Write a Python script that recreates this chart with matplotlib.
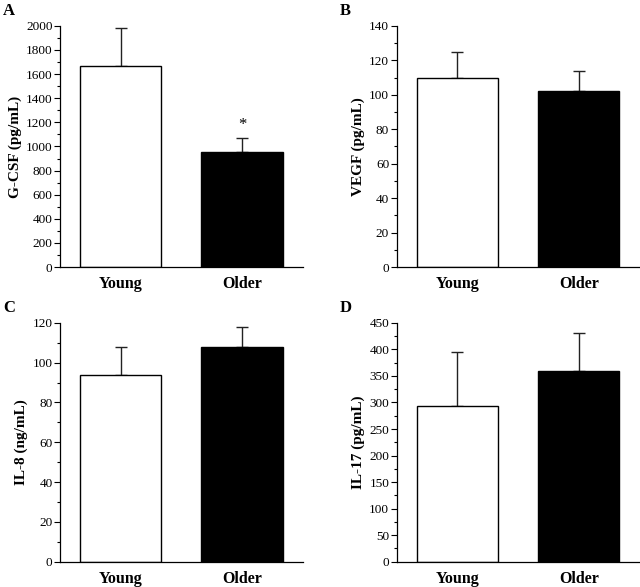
import matplotlib
matplotlib.use("Agg")
import matplotlib.pyplot as plt
from matplotlib.ticker import MultipleLocator

plt.rcParams["font.family"] = "Liberation Serif"

groups = ["Young", "Older"]

gcsf_mean = [1670, 950]
gcsf_err = [310, 120]

vegf_mean = [110, 102]
vegf_err = [15, 12]

il8_mean = [94, 108]
il8_err = [14, 10]

il17_mean = [293, 360]
il17_err = [102, 70]

panels = [
    # letter, ylabel, means, errs, ymax, major, minor, axes rect
    ("A", "G-CSF (pg/mL)", gcsf_mean, gcsf_err, 2000, 200, 100, [0.094, 0.545, 0.379, 0.411]),
    ("B", "VEGF (pg/mL)", vegf_mean, vegf_err, 140, 20, 10, [0.620, 0.545, 0.379, 0.411]),
    ("C", "IL-8 (ng/mL)", il8_mean, il8_err, 120, 20, 10, [0.094, 0.043, 0.379, 0.407]),
    ("D", "IL-17 (pg/mL)", il17_mean, il17_err, 450, 50, 25, [0.620, 0.043, 0.379, 0.407]),
]

fig = plt.figure(figsize=(6.4, 5.87), dpi=100)

for letter, ylabel, means, errs, ymax, major, minor, rect in panels:
    ax = fig.add_axes(rect)
    x = [1, 2]
    ax.bar(x, means, width=0.67, color=["white", "black"], edgecolor="black",
           linewidth=1.0, zorder=2)
    ax.errorbar(x, means, yerr=[[0, 0], errs], fmt="none", ecolor="#222222",
                elinewidth=1.0, capsize=4, capthick=1.0, zorder=1)
    ax.set_xlim(0.5, 2.5)
    ax.set_ylim(0, ymax)
    ax.yaxis.set_major_locator(MultipleLocator(major))
    ax.yaxis.set_minor_locator(MultipleLocator(minor))
    ax.set_xticks(x)
    ax.set_xticklabels(groups, fontsize=11.5, fontweight="bold")
    ax.tick_params(axis="x", length=0, pad=6.5)
    ax.tick_params(axis="y", which="major", length=4, width=0.8, labelsize=9.5, pad=1.5)
    ax.tick_params(axis="y", which="minor", length=2, width=0.8)
    for s in ["top", "right"]:
        ax.spines[s].set_visible(False)
    for s in ["left", "bottom"]:
        ax.spines[s].set_linewidth(0.9)
    ax.set_ylabel(ylabel, fontsize=11, fontweight="bold", labelpad=3)
    ax.annotate(letter, xy=(0, 1), xycoords="axes fraction", xytext=(-57, 23),
                textcoords="offset pixels", fontsize=12, fontweight="bold",
                ha="left", va="top")
    if letter == "A":
        ax.text(2, 1110, "*", ha="center", va="bottom", fontsize=12)

fig.savefig("out.png", dpi=100)
